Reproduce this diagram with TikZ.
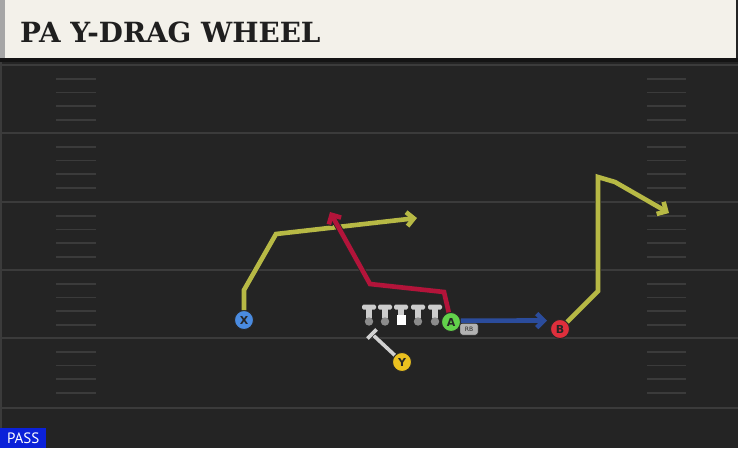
\documentclass[tikz,border=0pt]{standalone}
\usepackage{fontspec}
\newfontfamily\headfont{DejaVu Serif}
\newfontfamily\chipfont{DejaVu Sans}
\newfontfamily\tagfont{PT Sans}
\usetikzlibrary{arrows.meta, positioning}

\definecolor{fieldbg}{HTML}{242424}
\definecolor{fieldline}{HTML}{3B3B3B}
\definecolor{headcream}{HTML}{F3F1EA}
\definecolor{routeyellow}{HTML}{B7B945}
\definecolor{routered}{HTML}{B3143A}
\definecolor{routeblue}{HTML}{2B4C9C}
\definecolor{chipblue}{HTML}{4A8BE0}
\definecolor{chipgreen}{HTML}{62D14B}
\definecolor{chipred}{HTML}{DF2F3C}
\definecolor{chipyellow}{HTML}{EBC11F}
\definecolor{passblue}{HTML}{0B21D9}

\tikzset{
  yardline/.style={fieldline, line width=2pt},
  hashmark/.style={fieldline, line width=1.5pt},
  player/.style={circle, minimum size=19pt, inner sep=0pt, draw=black!85, line width=0.9pt,
    font=\chipfont\bfseries\fontsize{11}{11}\selectfont, text=black!85},
  route/.style={line width=4.6pt, line join=miter,
    -{Straight Barb[length=7pt, width=14pt]},
    preaction={draw=black!85, line width=6.2pt}},
  block/.style={line width=3.6pt, draw=black!18,
    preaction={draw=black!85, line width=4.8pt}},
  tee/.style={fill=black!20},
  teeball/.style={fill=black!45},
}

\begin{document}
\begin{tikzpicture}[x=1pt, y=-1pt]

\newcommand{\pbTee}[1]{
  % #1 = x of the lineman
  \fill[tee, rounded corners=1.5pt] ({#1-7},304.5) rectangle ({#1+7},309.5);
  \fill[tee] ({#1-2.6},309) rectangle ({#1+2.6},318);
}

\useasboundingbox (0,0) rectangle (738,448);

% field background
\fill[fieldbg] (0,0) rectangle (738,448);
\draw[fieldline, line width=2pt] (1,60) -- (1,448);

% yard lines and hash marks
\foreach \y in {65,133,202,270,338,408}
  \draw[yardline] (0,\y) -- (738,\y);
\foreach \y in {65,133,202,270,338} {
  \foreach \d in {14,27.5,41,55} {
    \draw[hashmark] (56,\y+\d) -- (96,\y+\d);
    \draw[hashmark] (647,\y+\d) -- (686,\y+\d);
  }
}

% header bar
\fill[headcream] (5,0) rectangle (736,58);
\fill[black!35] (0,0) rectangle (5,58);
\fill[black!92] (0,58) rectangle (738,62);
\node[anchor=base west, inner sep=0pt, text=black!88,
  font=\headfont\bfseries\fontsize{27.8}{28}\selectfont] (title) at (20,42) {PA Y-DRAG WHEEL};

% offensive line
\foreach \x in {369,385,418,435} {
  \pbTee{\x}
  \fill[teeball] (\x,321.5) circle (4.2);
}
\pbTee{401}
\fill[white] (396.5,315) rectangle (405.5,325);

% players
\node[player, fill=chipblue] (X) at (244,320) {X};
\node[player, fill=chipgreen] (A) at (451,322) {A};
\node[player, fill=chipred] (B) at (560,329) {B};
\node[player, fill=chipyellow] (Y) at (402,362) {Y};
\node[draw=black!85, fill=black!30, rounded corners=2.5pt, inner sep=1pt, minimum width=18pt,
  minimum height=12pt, font=\chipfont\fontsize{6}{6}\selectfont, text=black!85] (rb) at (469,329) {RB};

% route ends
\coordinate (xEnd) at (417,218);
\coordinate (aEnd) at (330,212);
\coordinate (aFlat) at (547,320.5);
\coordinate (bEnd) at (669,213);
\coordinate (yBlock) at (372,334);

% routes
\draw[route, routeyellow] (X) -- (244,290) -- (276,234) -- (xEnd);
\draw[route, routered] (A) -- (444,292) -- (370,284) -- (aEnd);
\draw[route, routeblue] (A.8) -- (aFlat);
\draw[route, routeyellow] (B) -- (598,291) -- (598,177) -- (615,182) -- (bEnd);

% pass block for Y
\draw[block] (Y) -- (yBlock);
\draw[block] ([shift={(-4.6,4.6)}]yBlock) -- ([shift={(4.6,-4.6)}]yBlock);

% play type tag
\node[anchor=south west, fill=passblue, text=white, inner sep=0pt, minimum width=46pt,
  minimum height=20pt, font=\tagfont\fontsize{15}{15}\selectfont] (pass) at (0,448) {PASS};

\end{tikzpicture}
\end{document}
